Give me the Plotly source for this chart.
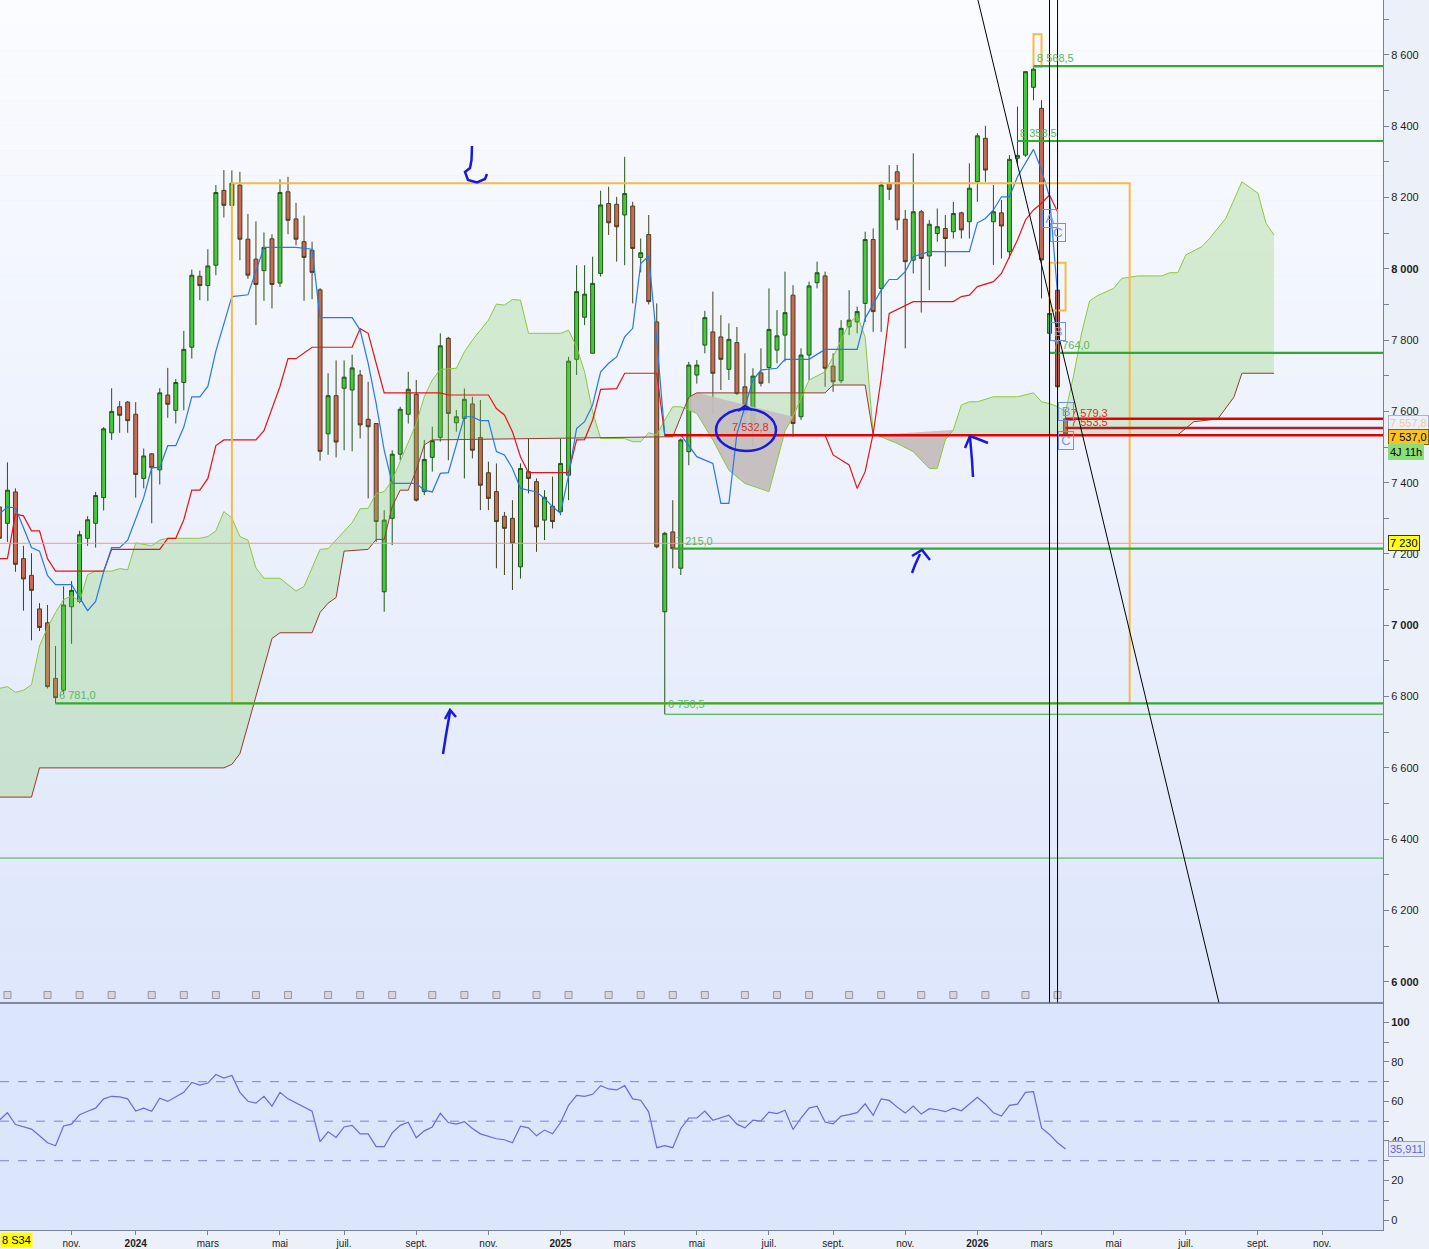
import pandas as pd
import plotly.graph_objects as go

# weekly bars, first one = week of 4 sept. 2023
start = pd.Timestamp("2023-09-04")
n_proj = 26  # ichimoku cloud projected forward

opens = [7332, 7286, 7374, 7187, 7140, 7046, 7007, 6851, 6818, 7052,
         7067, 7244, 7286, 7358, 7540, 7613, 7626, 7592, 7412, 7481,
         7436, 7646, 7603, 7681, 7780, 7979, 7953, 8010, 8220, 8178,
         8235, 8083, 8027, 7995, 8084, 7960, 8216, 8140, 8076, 8052,
         7941, 7537, 7644, 7665, 7660, 7702, 7578, 7566, 7094, 7300,
         7480, 7592, 7648, 7375, 7471, 7527, 7805, 7568, 7580, 7621,
         7527, 7428, 7375, 7306, 7300, 7164, 7431, 7403, 7295, 7334,
         7319, 7421, 7746, 7864, 7763, 7987, 8183, 8181, 8151, 8176,
         8032, 8096, 7851, 7038, 7262, 7160, 7487, 7702, 7786, 7823,
         7809, 7718, 7793, 7669, 7557, 7708, 7723, 7772, 7814, 7926,
         7585, 7758, 7961, 7980, 7727, 7686, 7837, 7851, 7903, 8082,
         7945, 8239, 8272, 8139, 8024, 8160, 8036, 8099, 8113, 8104,
         8157, 8132, 8244, 8366, 8132, 8157, 8048, 8310, 8319, 8509,
         8450, 7819, 7940, 7579.3]
highs = [7350, 7457, 7384, 7223, 7202, 7062, 7057, 6942, 7109, 7124,
         7265, 7306, 7374, 7556, 7665, 7629, 7629, 7626, 7496, 7483,
         7665, 7722, 7691, 7826, 7998, 7995, 8055, 8235, 8277, 8276,
         8272, 8154, 8133, 8102, 8097, 8251, 8258, 8185, 8149, 8076,
         7946, 7707, 7743, 7743, 7759, 7716, 7683, 7566, 7323, 7491,
         7613, 7711, 7688, 7520, 7557, 7819, 7809, 7604, 7664, 7641,
         7632, 7459, 7454, 7318, 7351, 7454, 7524, 7412, 7379, 7417,
         7524, 7753, 8010, 8010, 8034, 8219, 8230, 8202, 8314, 8188,
         8085, 8151, 7903, 7262, 7351, 7524, 7739, 7744, 7882, 7936,
         7870, 7847, 7837, 7763, 7721, 7777, 7945, 7884, 7992, 7954,
         7777, 7964, 8020, 7992, 7763, 7856, 7940, 7894, 8104, 8113,
         8244, 8291, 8291, 8165, 8324, 8165, 8137, 8169, 8151, 8188,
         8160, 8296, 8380, 8401, 8235, 8193, 8319, 8455, 8555, 8660,
         8473, 7880, 7987, 7607]
lows = [7230, 7234, 7150, 7041, 6958, 6984, 6823, 6781, 6807, 6948,
        7062, 7223, 7218, 7322, 7520, 7540, 7540, 7358, 7384, 7286,
        7395, 7582, 7566, 7603, 7748, 7912, 7910, 7982, 8144, 8170,
        8024, 7972, 7842, 7910, 7889, 7949, 8097, 8066, 7910, 7915,
        7462, 7478, 7471, 7491, 7488, 7524, 7356, 7234, 7038, 7225,
        7463, 7566, 7347, 7365, 7431, 7515, 7463, 7543, 7412, 7468,
        7323, 7323, 7160, 7141, 7099, 7131, 7370, 7206, 7239, 7272,
        7309, 7351, 7702, 7842, 7763, 7978, 8095, 8020, 8010, 7903,
        7990, 7900, 7216, 6750.5, 7160, 7141, 7449, 7678, 7763, 7594,
        7660, 7688, 7646, 7557, 7501, 7670, 7679, 7735, 7740, 7529,
        7576, 7688, 7945, 7669, 7655, 7679, 7814, 7819, 7851, 7823,
        7823, 8193, 8109, 7777, 7987, 7877, 7940, 8076, 8006, 8085,
        8085, 8085, 8188, 8244, 8011, 8029, 8029, 8290, 8314, 8473,
        7917, 7764, 7660, 7537]
closes = [7244, 7379, 7171, 7130, 7098, 6994, 6828, 6797, 7057, 7098,
          7254, 7296, 7364, 7551, 7600, 7589, 7574, 7423, 7475, 7442,
          7652, 7620, 7681, 7774, 7982, 7953, 8008, 8214, 8178, 8240,
          8083, 7982, 7956, 8060, 7956, 8214, 8136, 8083, 8032, 7990,
          7488, 7644, 7514, 7696, 7722, 7562, 7557, 7291, 7295, 7480,
          7606, 7662, 7351, 7465, 7518, 7784, 7594, 7585, 7634, 7491,
          7393, 7356, 7291, 7272, 7230, 7440, 7412, 7276, 7359, 7291,
          7454, 7741, 7936, 7929, 7959, 8179, 8129, 8118, 8211, 8057,
          8045, 7908, 7220, 7258, 7215, 7520, 7730, 7730, 7863, 7707,
          7746, 7802, 7650, 7594, 7699, 7679, 7830, 7812, 7877, 7566,
          7758, 7952, 7989, 7721, 7683, 7833, 7856, 7880, 8082, 7880,
          8235, 8223, 8137, 8020, 8160, 8029, 8125, 8118, 8085, 8155,
          8109, 8226, 8373, 8277, 8160, 8120, 8307, 8318, 8553, 8560,
          8025, 7875, 7669, 7537]

rsi = [50.5, 54.3, 48.3, 47.1, 46.0, 42.6, 39.1, 37.6, 47.6, 48.5,
       53.3, 55.0, 56.6, 61.3, 62.6, 62.3, 61.3, 55.1, 56.6, 55.0,
       61.6, 60.0, 62.1, 64.6, 69.6, 68.3, 69.3, 73.6, 71.8, 73.1,
       64.6, 60.1, 59.1, 62.6, 57.6, 64.6, 61.3, 59.3, 57.3, 55.1,
       39.6, 44.6, 41.8, 47.1, 47.9, 43.6, 43.6, 37.1, 37.1, 44.1,
       47.9, 49.5, 41.6, 45.1, 47.1, 54.0, 49.3, 48.5, 49.8, 46.3,
       43.6, 42.4, 41.1, 40.6, 39.1, 47.5, 46.6, 42.6, 45.5, 43.6,
       49.3, 58.0, 63.0, 62.6, 63.6, 68.0, 66.3, 65.8, 68.0, 61.3,
       60.6, 54.6, 36.6, 37.6, 36.6, 46.3, 51.6, 51.6, 55.1, 50.5,
       51.6, 53.0, 48.5, 46.6, 50.5, 50.1, 54.6, 53.8, 55.5, 45.8,
       51.6, 56.6, 57.6, 49.6, 48.6, 52.6, 53.3, 54.3, 58.8, 53.0,
       61.3, 60.5, 57.1, 54.1, 57.6, 53.6, 56.3, 55.8, 54.8, 56.6,
       55.3, 58.6, 62.1, 58.6, 54.3, 52.6, 58.0, 58.6, 64.6, 65.0,
       46.6, 43.3, 39.1, 35.911]

# ichimoku lines (bar index -> value)
tenkan_idx = [0, 1, 2, 4, 5, 6, 7, 9, 11, 12, 13, 14, 15, 16, 18, 19, 20, 21, 22, 23,
              24, 25, 26, 27, 29, 31, 33, 37, 39, 40, 44, 45, 46, 47, 48, 49, 52, 53, 54, 55,
              56, 57, 58, 59, 60, 61, 62, 63, 64, 65, 66, 67, 68, 69, 70, 71, 72, 73, 74, 75,
              76, 77, 78, 79, 80, 81, 82, 83, 85, 87, 89, 90, 91, 92, 94, 95, 97, 98, 101, 103,
              107, 108, 110, 111, 112, 113, 114, 116, 121, 122, 123, 124, 125, 126, 127, 128, 129, 130, 131, 132]
tenkan = [7312, 7332, 7329, 7218, 7208, 7140, 7114, 7114, 7041, 7067, 7150, 7218, 7218, 7239, 7358, 7442, 7442, 7504, 7504, 7556,
          7641, 7641, 7670, 7769, 7922, 7927, 8060, 8060, 8055, 7863, 7863, 7828, 7735, 7622, 7491, 7398, 7398, 7379, 7374, 7426,
          7428, 7510, 7585, 7585, 7574, 7574, 7487, 7478, 7440, 7384, 7379, 7374, 7356, 7333, 7314, 7421, 7552, 7571, 7618, 7711,
          7735, 7753, 7809, 7833, 8015, 8036, 7800, 7534, 7534, 7473, 7454, 7342, 7342, 7538, 7688, 7716, 7721, 7746, 7746, 7774,
          7774, 7861, 7940, 7970, 7970, 7992, 8034, 8048, 8048, 8129, 8141, 8165, 8202, 8202, 8258, 8296, 8335, 8277, 8202, 7930]

kijun_idx = [0, 1, 2, 3, 4, 5, 6, 7, 13, 14, 20, 21, 22, 23, 24, 25, 26, 27, 28, 32,
             33, 34, 35, 36, 37, 39, 44, 45, 46, 47, 48, 55, 56, 61, 62, 63, 64, 65, 66, 71,
             72, 73, 74, 75, 77, 78, 82, 83, 103, 104, 106, 107, 108, 109, 110, 111, 113, 114, 119, 120,
             121, 122, 124, 125, 126, 127, 128, 129, 130, 131, 132]
kijun = [7187, 7187, 7312, 7307, 7265, 7265, 7187, 7152, 7152, 7213, 7213, 7244, 7244, 7296, 7379, 7379, 7412, 7504, 7520, 7520,
         7546, 7608, 7670, 7748, 7748, 7780, 7780, 7832, 7819, 7735, 7652, 7652, 7646, 7646, 7608, 7590, 7543, 7473, 7428, 7428,
         7520, 7521, 7576, 7662, 7664, 7707, 7707, 7533, 7533, 7478, 7450, 7384, 7431, 7538, 7693, 7875, 7898, 7908, 7908, 7922,
         7926, 7950, 7964, 7987, 8034, 8081, 8137, 8165, 8184, 8207, 8160]

ssa_idx = [0, 1, 2, 3, 4, 5, 6, 7, 8, 9, 10, 11, 12, 14, 15, 16, 17, 18, 19, 20,
           21, 25, 26, 27, 28, 29, 30, 31, 32, 33, 35, 36, 37, 38, 39, 40, 41, 42, 43, 44,
           45, 46, 47, 48, 49, 50, 51, 52, 53, 54, 55, 57, 58, 59, 60, 61, 62, 63, 64, 65,
           66, 70, 71, 72, 73, 74, 75, 78, 79, 80, 81, 82, 83, 84, 85, 86, 87, 89, 91, 93,
           96, 98, 99, 101, 103, 104, 106, 107, 108, 109, 112, 114, 116, 117, 118, 119, 120, 121, 122, 124,
           127, 129, 130, 131, 132, 133, 134, 135, 136, 137, 138, 139, 140, 142, 145, 146, 147, 148, 150, 151,
           153, 155, 157, 158, 159]
ssa = [6823, 6828, 6812, 6818, 6833, 6942, 6994, 7036, 7072, 7083, 7067, 7142, 7152, 7152, 7159, 7156, 7231, 7228, 7223, 7239,
       7244, 7244, 7249, 7265, 7319, 7301, 7249, 7239, 7161, 7132, 7132, 7114, 7096, 7109, 7163, 7213, 7215, 7239, 7265, 7288,
       7327, 7328, 7370, 7375, 7407, 7459, 7510, 7566, 7641, 7688, 7718, 7721, 7767, 7800, 7828, 7856, 7901, 7898, 7914, 7912,
       7819, 7819, 7828, 7781, 7711, 7599, 7524, 7524, 7515, 7515, 7540, 7534, 7576, 7613, 7613, 7604, 7594, 7520, 7435, 7398,
       7375, 7545, 7585, 7688, 7711, 7753, 7847, 7870, 7809, 7538, 7510, 7487, 7440, 7440, 7520, 7548, 7618, 7627, 7627, 7641,
       7641, 7652, 7627, 7622, 7613, 7600, 7700, 7820, 7910, 7925, 7935, 7945, 7973, 7980, 7980, 7989, 7989, 8039, 8062, 8086,
       8142, 8244, 8212, 8128, 8095]

ssb_idx = [0, 4, 5, 28, 29, 30, 31, 32, 33, 34, 35, 39, 40, 41, 42, 43, 46, 47, 48, 49,
           50, 51, 52, 53, 54, 84, 85, 86, 87, 103, 104, 108, 109, 147, 149, 152, 154, 155, 159]
ssb = [6518, 6518, 6600, 6600, 6610, 6640, 6720, 6800, 6880, 6963, 6979, 6979, 7036, 7062, 7078, 7208, 7213, 7241, 7241, 7333,
       7379, 7379, 7435, 7506, 7520, 7529, 7585, 7640, 7652, 7652, 7674, 7674, 7534, 7534, 7571, 7579, 7640, 7707, 7707]

# bars where senkou B sits above senkou A (grey cloud)
grey_spans = [(86, 100), (109, 119)]

# levels drawn on the chart
green_levels = [8568.5, 8358.5, 7764.0, 7215.0, 6781.0, 6750.5]
green_from = [129, 127, 131, 84, 7, 83]
green_text = ["8 568,5", "8 358,5", "7 764,0", "7 215,0", "6 781,0", "6 750,5"]
red_levels = [7532.8, 7579.3, 7553.5]
red_from = [83, 133, 133]
event_idx = [1, 6, 10, 14, 19, 23, 27, 32, 36, 41, 45, 49, 54, 58, 62, 67, 71, 76, 80, 84,
             88, 93, 97, 101, 106, 110, 115, 119, 123, 128, 132]

month_ticks = ["2023-11-06", "2024-01-01", "2024-03-04", "2024-05-06", "2024-07-01", "2024-09-02",
               "2024-11-04", "2025-01-06", "2025-03-03", "2025-05-05", "2025-07-07", "2025-09-01",
               "2025-11-03", "2026-01-05", "2026-03-02", "2026-05-04", "2026-07-06", "2026-09-07",
               "2026-11-02"]
month_text = ["nov.", "<b>2024</b>", "mars", "mai", "juil.", "sept.", "nov.", "<b>2025</b>", "mars",
              "mai", "juil.", "sept.", "nov.", "<b>2026</b>", "mars", "mai", "juil.", "sept.", "nov."]


def wk(i):
    return start + pd.Timedelta(days=7 * i)


dates = [wk(i) for i in range(len(closes))]
FONT = "Liberation Sans, Arial, sans-serif"
W, H = 1383, 1230  # plot area in px


def px(x):
    return x / W


def py(y):
    return 1 - y / H


split = 1 - 1003 / H
P_LO, P_HI = 5940.5, 8754

fig = go.Figure()

# cloud
fig.add_trace(go.Scatter(
    x=[wk(i) for i in ssa_idx] + [wk(i) for i in ssb_idx[::-1]],
    y=ssa + ssb[::-1], fill="toself", fillcolor="rgba(130,205,95,0.28)",
    line=dict(width=0), mode="lines", hoverinfo="skip", showlegend=False))
for a, b in grey_spans:
    ia = [k for k, i in enumerate(ssa_idx) if a <= i <= b]
    ib = [k for k, i in enumerate(ssb_idx) if a <= i <= b]
    xs = [wk(ssa_idx[k]) for k in ia] + [wk(ssb_idx[k]) for k in ib[::-1]]
    ys = [ssa[k] for k in ia] + [ssb[k] for k in ib[::-1]]
    if ib:
        xs = [wk(a)] + xs + [wk(a)]
        ys = [ssb[ib[0]]] + ys + [ssb[ib[0]]]
    fig.add_trace(go.Scatter(x=xs, y=ys, fill="toself", fillcolor="rgba(196,188,190,0.9)",
                             line=dict(width=0), mode="lines", hoverinfo="skip", showlegend=False))

fig.add_trace(go.Scatter(x=[wk(i) for i in ssa_idx], y=ssa, mode="lines",
                         line=dict(color="rgb(140,200,60)", width=1), showlegend=False))
fig.add_trace(go.Scatter(x=[wk(i) for i in ssb_idx], y=ssb, mode="lines",
                         line=dict(color="rgb(150,60,40)", width=1), showlegend=False))
fig.add_trace(go.Scatter(x=[wk(i) for i in kijun_idx], y=kijun, mode="lines",
                         line=dict(color="rgb(232,20,20)", width=1.2), showlegend=False))
fig.add_trace(go.Scatter(x=[wk(i) for i in tenkan_idx], y=tenkan, mode="lines",
                         line=dict(color="rgb(40,120,230)", width=1.2), showlegend=False))

fig.add_trace(go.Candlestick(
    x=dates, open=opens, high=highs, low=lows, close=closes,
    increasing=dict(fillcolor="rgb(70,200,60)", line=dict(color="rgb(35,85,25)", width=1)),
    decreasing=dict(fillcolor="rgb(200,105,85)", line=dict(color="rgb(70,65,30)", width=1)),
    whiskerwidth=0, showlegend=False, hoverinfo="skip"))

# event icons row
fig.add_trace(go.Scatter(x=[wk(i) for i in event_idx], y=[5963] * len(event_idx), mode="markers",
                         marker=dict(symbol="square", size=7, color="rgb(214,214,220)",
                                     line=dict(color="rgb(150,150,160)", width=1)),
                         hoverinfo="skip", showlegend=False))

# RSI
fig.add_trace(go.Scatter(x=dates, y=rsi, mode="lines", yaxis="y2",
                         line=dict(color="rgb(105,105,225)", width=1.2), showlegend=False))

shapes = []
# background gradient of the price pane
n = 40
for k in range(n):
    t = k / (n - 1)
    c = (int(251 - 29 * t), int(252 - 21 * t), int(255 - 4 * t))
    shapes.append(dict(type="rect", xref="paper", yref="paper", x0=0, x1=1,
                       y0=py(1003 * (k + 1) / n), y1=py(1003 * k / n), layer="below",
                       fillcolor="rgb(%d,%d,%d)" % c, line=dict(width=0)))
shapes.append(dict(type="rect", xref="paper", yref="paper", x0=0, x1=1, y0=0, y1=split,
                   layer="below", fillcolor="rgb(219,229,252)", line=dict(width=0)))

x_end = start + pd.Timedelta(days=1208.2)
# thin full-width lines
shapes.append(dict(type="line", xref="paper", yref="y", x0=0, x1=1, y0=7230, y1=7230,
                   line=dict(color="rgb(240,150,150)", width=1)))
shapes.append(dict(type="line", xref="paper", yref="y", x0=0, x1=1, y0=6347, y1=6347,
                   line=dict(color="rgb(60,180,60)", width=1)))
# orange boxes
shapes.append(dict(type="rect", xref="x", yref="y", x0=wk(29), x1=wk(141), y0=6781, y1=8240,
                   line=dict(color="rgb(246,186,70)", width=2)))
shapes.append(dict(type="rect", xref="x", yref="y", x0=wk(129), x1=wk(130), y0=8567, y1=8658,
                   line=dict(color="rgb(246,186,70)", width=2)))
shapes.append(dict(type="rect", xref="x", yref="y", x0=wk(131), x1=wk(133), y0=7883, y1=8017,
                   line=dict(color="rgb(246,186,70)", width=2)))
# level lines
for v, i in zip(green_levels, green_from):
    w = 1.2 if v == 6750.5 else 2.2
    shapes.append(dict(type="line", xref="x", yref="y", x0=wk(i), x1=x_end, y0=v, y1=v,
                       line=dict(color="rgb(50,170,50)", width=w)))
for v, i, col in zip(red_levels, red_from, ["rgb(228,0,0)", "rgb(228,0,0)", "rgb(185,30,40)"]):
    shapes.append(dict(type="line", xref="x", yref="y", x0=wk(i), x1=x_end, y0=v, y1=v,
                       line=dict(color=col, width=2.5)))
# vertical markers and trendline
for i in (131, 132):
    shapes.append(dict(type="line", xref="x", yref="y domain", x0=wk(i), x1=wk(i), y0=0, y1=1,
                       line=dict(color="black", width=1)))
shapes.append(dict(type="line", xref="x", yref="y",
                   x0=start + pd.Timedelta(days=854.5), y0=P_HI,
                   x1=start + pd.Timedelta(days=1065), y1=P_LO,
                   line=dict(color="black", width=1)))
# RSI guides
for v in (30, 50, 70):
    shapes.append(dict(type="line", xref="paper", yref="y2", x0=0, x1=1, y0=v, y1=v,
                       line=dict(color="rgb(130,130,205)", width=1, dash="dash")))
# pane separator
shapes.append(dict(type="line", xref="paper", yref="paper", x0=0, x1=1, y0=split, y1=split,
                   line=dict(color="rgb(95,105,125)", width=1.5)))

# hand-drawn blue marks
strokes = [
    [(472, 146), (471.5, 160), (470, 168), (465, 172), (468, 180), (477, 182.5), (485, 179), (487, 174)],
    [(443, 754), (446, 735), (450, 712)],
    [(445, 719), (450, 710), (456, 717)],
    [(973, 477), (972, 460), (970, 437)],
    [(965, 448), (970, 436), (978, 439), (988, 443)],
    [(912, 573), (915, 565), (920, 554)],
    [(912, 556), (922, 550), (930, 560)],
    [(738, 411), (745, 406), (752, 410)],
]
for s in strokes:
    path = "M " + " L ".join("%.5f,%.5f" % (px(a), py(b)) for a, b in s)
    shapes.append(dict(type="path", xref="paper", yref="paper", path=path,
                       line=dict(color="rgb(25,25,220)", width=2.5)))
shapes.append(dict(type="circle", xref="paper", yref="paper", x0=px(716), x1=px(776),
                   y0=py(451), y1=py(409), line=dict(color="rgb(25,25,220)", width=2.5)))

ann = []
for v, i, t in zip(green_levels, green_from, green_text):
    ann.append(dict(x=wk(i), y=v, xref="x", yref="y", text=t, showarrow=False,
                    xanchor="left", yanchor="bottom", xshift=1, yshift=0 if v != 6750.5 else 2,
                    font=dict(family=FONT, size=11, color="rgb(90,185,90)")))
ann.append(dict(x=wk(91), y=7532.8, xref="x", yref="y", text="7 532,8", showarrow=False,
                xanchor="left", yanchor="bottom", xshift=1,
                font=dict(family=FONT, size=11, color="rgb(230,40,40)")))
ann.append(dict(x=wk(133), y=7579.3, xref="x", yref="y", text="7 579,3", showarrow=False,
                xanchor="left", yanchor="bottom", xshift=3, yshift=-2,
                font=dict(family=FONT, size=11, color="rgb(230,40,40)")))
ann.append(dict(x=wk(133), y=7553.5, xref="x", yref="y", text="7 553,5", showarrow=False,
                xanchor="left", yanchor="bottom", xshift=3, yshift=-2,
                font=dict(family=FONT, size=11, color="rgb(230,40,40)")))
# wave letters
for i, v, t in [(131, 8142, "A"), (132, 8103, "C"), (132, 7823, "B"), (133, 7601, "B"), (133, 7517, "C")]:
    ann.append(dict(x=wk(i), y=v, xref="x", yref="y", text=t, showarrow=False,
                    bordercolor="rgb(110,145,225)", borderwidth=1, borderpad=1, width=12,
                    font=dict(family=FONT, size=13, color="rgb(120,150,230)")))
# axis value tags
ax_x = 1 + 5 / W
for v, t, bg, bc, fc, yr, sh in [
        (7557.8, "7 557,8", "rgb(236,240,250)", "rgb(170,180,200)", "rgb(240,200,160)", "y", 3),
        (7537.0, "7 537,0", "rgb(250,196,30)", "rgb(130,100,0)", "black", "y", -3),
        (7486.0, "4J 11h", "rgb(140,222,120)", "rgb(140,222,120)", "black", "y", 0),
        (7230.0, "7 230", "rgb(255,255,20)", "rgb(60,60,0)", "black", "y", 0),
        (35.911, "35,911", "rgb(226,233,250)", "rgb(150,160,190)", "rgb(100,100,220)", "y2", 0)]:
    ann.append(dict(x=ax_x, y=v, xref="paper", yref=yr, text=t, showarrow=False, xanchor="left",
                    yshift=sh, bgcolor=bg, bordercolor=bc, borderwidth=1, borderpad=1,
                    font=dict(family=FONT, size=11, color=fc)))
ann.append(dict(x=0, y=-0.002, xref="paper", yref="paper", text="8 S34", showarrow=False,
                xanchor="left", yanchor="top", bgcolor="rgb(255,255,0)",
                font=dict(family=FONT, size=11, color="black")))

price_ticks = list(range(6000, 8701, 100))
price_text = []
for v in price_ticks:
    if v % 200:
        price_text.append("")
    else:
        s = "%d %03d" % (v // 1000, v % 1000)
        price_text.append("<b>%s</b>" % s if v % 1000 == 0 else s)
rsi_ticks = list(range(0, 101, 10))
rsi_text = ["<b>100</b>" if v == 100 else (str(v) if v % 20 == 0 else "") for v in rsi_ticks]

axis_line = "rgb(120,130,150)"
fig.update_layout(
    width=1429, height=1249, template="none",
    margin=dict(l=0, r=46, t=0, b=19),
    paper_bgcolor="rgb(236,240,249)", plot_bgcolor="rgb(228,235,252)",
    font=dict(family=FONT, size=11, color="rgb(30,30,30)"),
    xaxis=dict(type="date", range=[start + pd.Timedelta(hours=12), x_end], anchor="y2",
               tickvals=month_ticks, ticktext=month_text, ticks="outside", ticklen=4,
               tickcolor=axis_line, showline=True, linecolor=axis_line, showgrid=False,
               zeroline=False, rangeslider=dict(visible=False), automargin=False,
               tickfont=dict(size=10)),
    yaxis=dict(domain=[split, 1], range=[P_LO, P_HI], side="right", anchor="x",
               tickvals=price_ticks, ticktext=price_text, ticks="outside", ticklen=5,
               tickcolor=axis_line, showline=True, linecolor=axis_line, showgrid=False,
               zeroline=False, automargin=False),
    yaxis2=dict(domain=[0, split], range=[-5.06, 109.8], side="right", anchor="x",
                tickvals=rsi_ticks, ticktext=rsi_text, ticks="outside", ticklen=5,
                tickcolor=axis_line, showline=True, linecolor=axis_line, showgrid=False,
                zeroline=False, automargin=False),
    shapes=shapes, annotations=ann, showlegend=False, hovermode=False,
)

# page default body margin would push the 1429x1249 figure off the window
fig.write_html("out.html", config={"displayModeBar": False},
               post_script="document.body.style.margin='0px';document.body.style.overflow='hidden';")
